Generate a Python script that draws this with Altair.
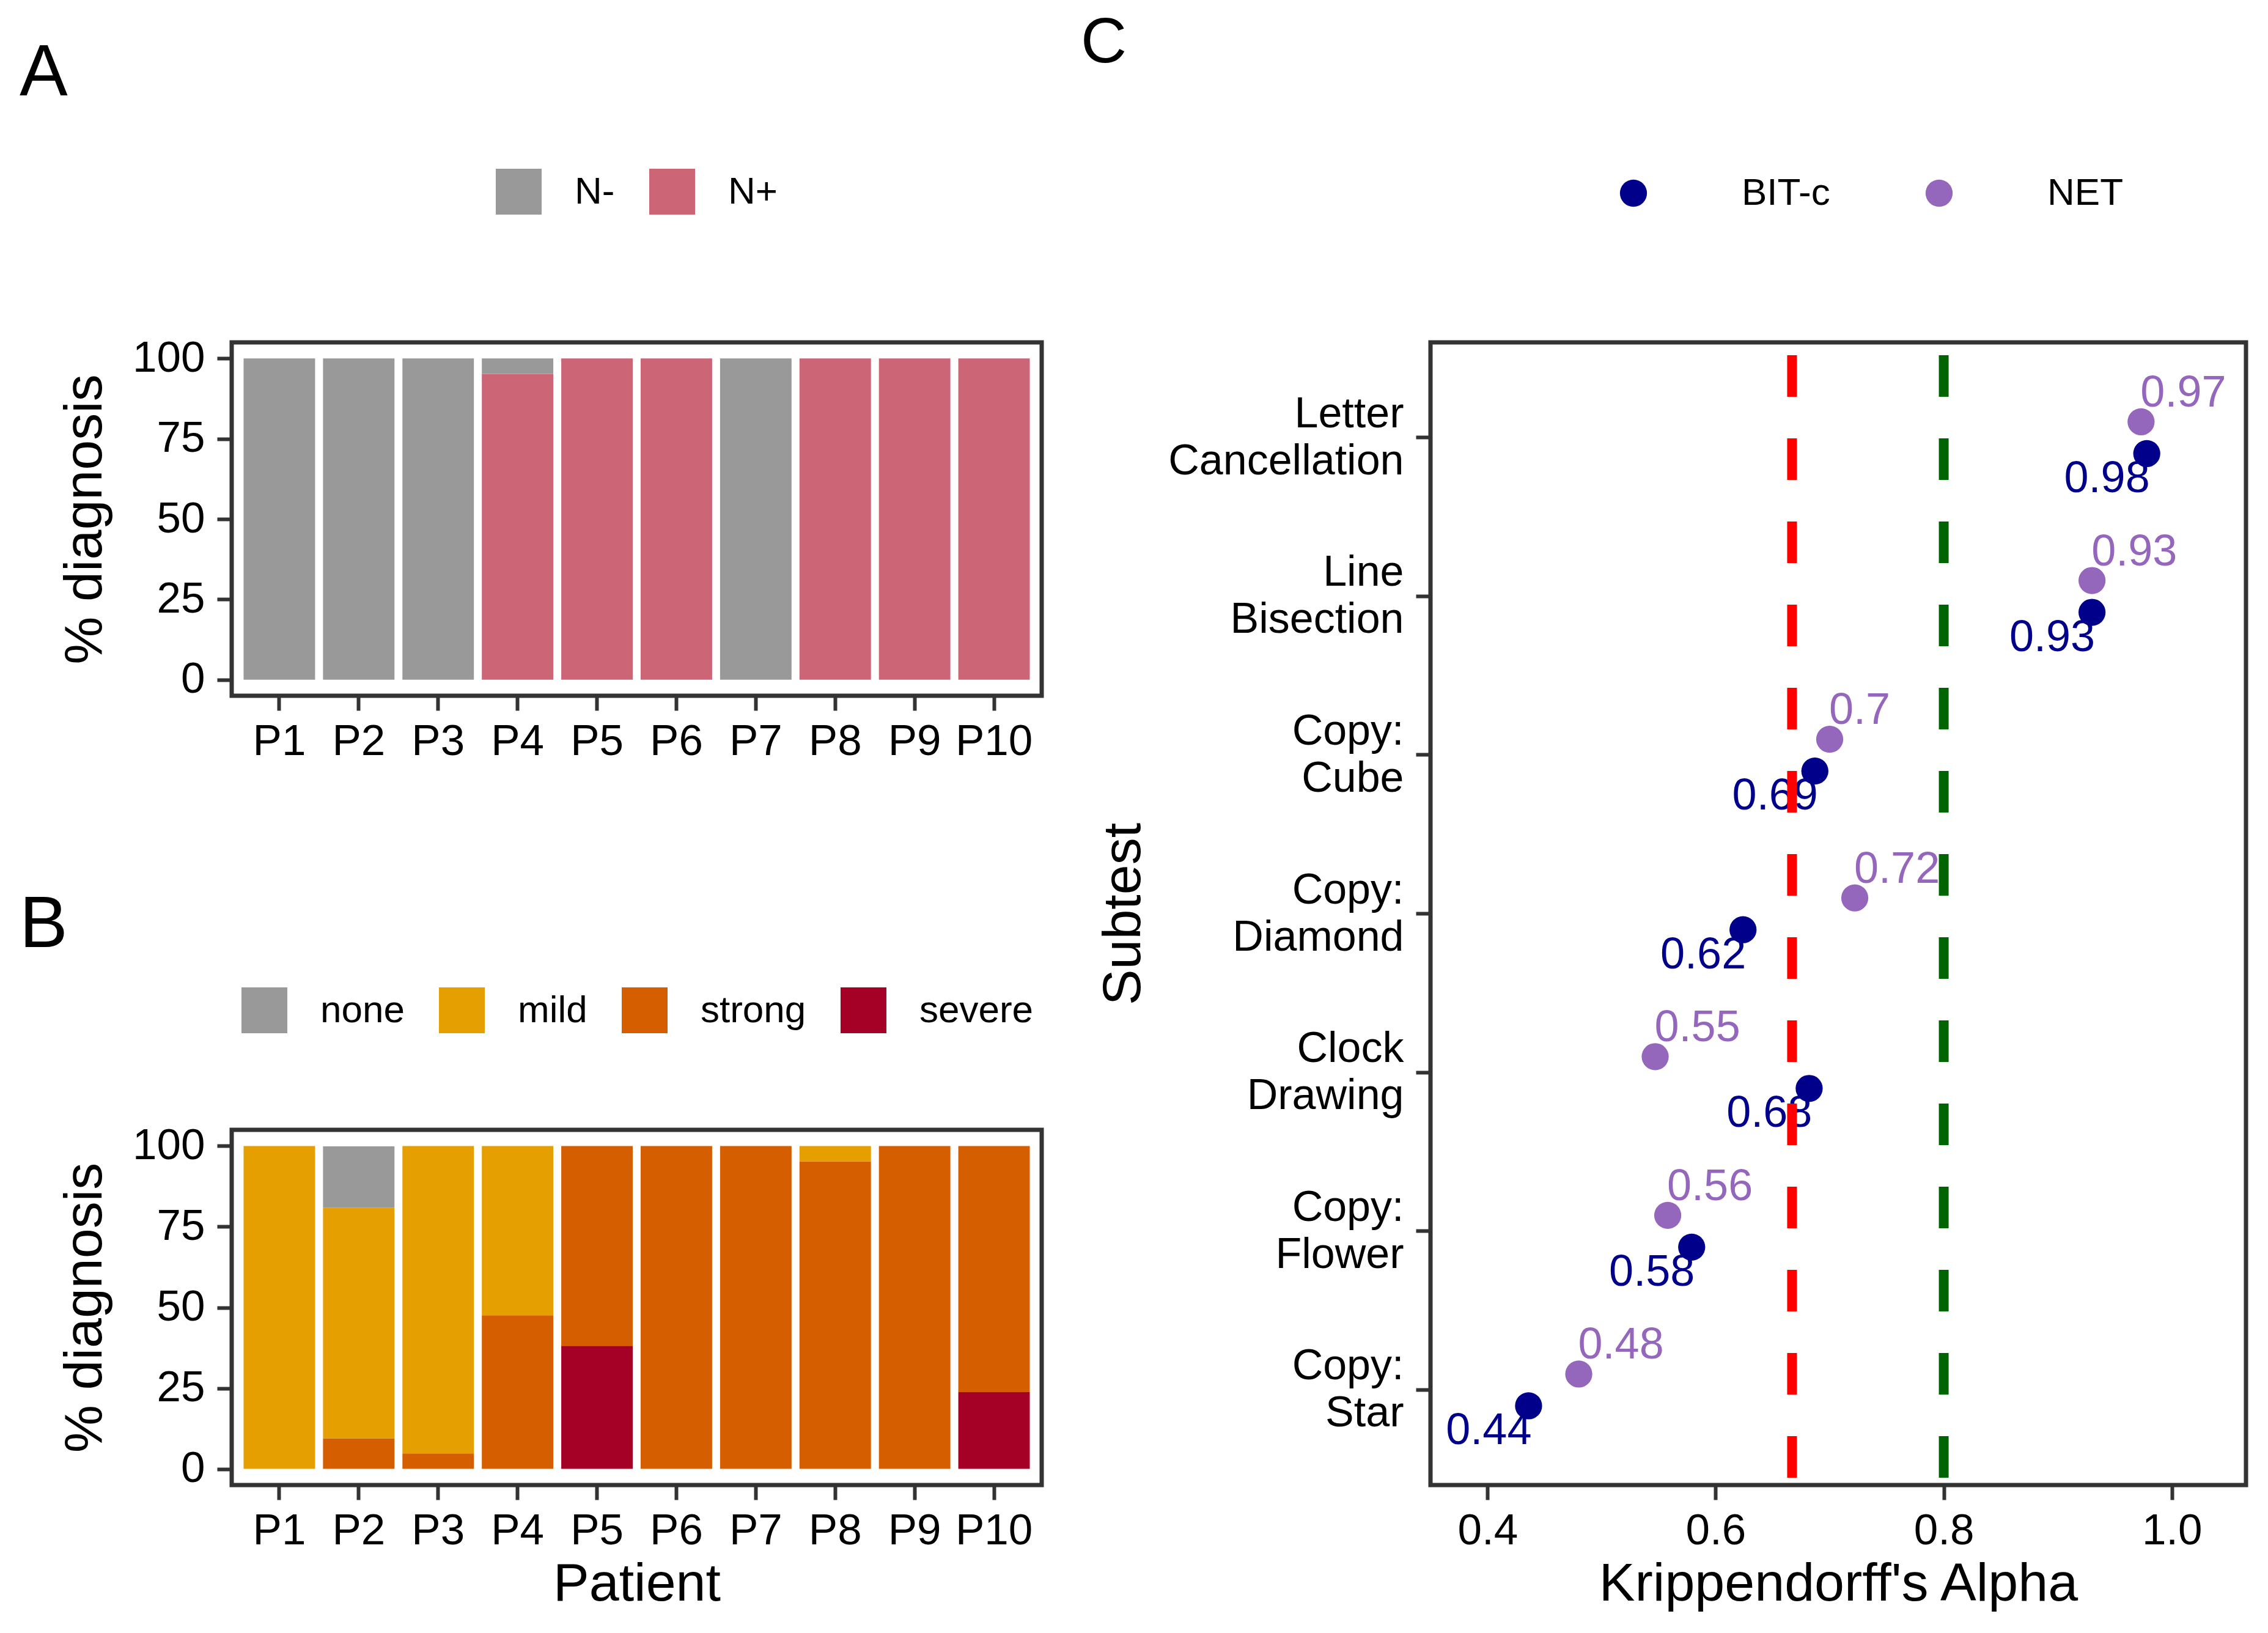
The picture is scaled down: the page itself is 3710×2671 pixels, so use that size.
import altair as alt
import pandas as pd

FONT = "Liberation Sans"

# ---------------- data ----------------
patients = ["P1", "P2", "P3", "P4", "P5", "P6", "P7", "P8", "P9", "P10"]

# Panel A: % diagnosis N- / N+
diag_levels = ["N-", "N+"]
diag_colors = ["#999999", "#CC6677"]
diag_neg = [100, 100, 100, 4.8, 0, 0, 100, 0, 0, 0]
diag_pos = [0, 0, 0, 95.2, 100, 100, 0, 100, 100, 100]

# Panel B: % severity
sev_levels = ["none", "mild", "strong", "severe"]
sev_colors = ["#999999", "#E69F00", "#D55E00", "#A50026"]
sev_none = [0, 19.0, 0, 0, 0, 0, 0, 0, 0, 0]
sev_mild = [100, 71.4, 95.2, 52.4, 0, 0, 0, 4.8, 0, 0]
sev_strong = [0, 9.5, 4.8, 47.6, 61.9, 100, 100, 95.2, 100, 76.2]
sev_severe = [0, 0, 0, 0, 38.1, 0, 0, 0, 0, 23.8]

# Panel C: Krippendorff's alpha per subtest
subtests = ["Letter Cancellation", "Line Bisection", "Copy: Cube", "Copy: Diamond",
            "Clock Drawing", "Copy: Flower", "Copy: Star"]
bitc_alpha = [0.978, 0.930, 0.687, 0.624, 0.682, 0.579, 0.436]
net_alpha = [0.973, 0.930, 0.700, 0.722, 0.547, 0.558, 0.480]
raters = ["BIT-c", "NET"]
rater_colors = ["#00008B", "#9467BD"]

thresholds = [0.667, 0.8]
threshold_colors = ["#FF0000", "#006400"]

# ---------------- tables ----------------
rows_a = []
for i, p in enumerate(patients):
    for rank, (lvl, vals) in enumerate([("N+", diag_pos), ("N-", diag_neg)]):
        if vals[i] > 0:
            rows_a.append({"patient": p, "diag": lvl, "pct": vals[i], "rank": rank})
df_a = pd.DataFrame(rows_a)

rows_b = []
for i, p in enumerate(patients):
    for rank, (lvl, vals) in enumerate([("severe", sev_severe), ("strong", sev_strong),
                                        ("mild", sev_mild), ("none", sev_none)]):
        if vals[i] > 0:
            rows_b.append({"patient": p, "sev": lvl, "pct": vals[i], "rank": rank})
df_b = pd.DataFrame(rows_b)

rows_c = []
for s, b, n in zip(subtests, bitc_alpha, net_alpha):
    rows_c.append({"subtest": s, "rater": "BIT-c", "alpha": b})
    rows_c.append({"subtest": s, "rater": "NET", "alpha": n})
df_c = pd.DataFrame(rows_c)

df_thr = pd.DataFrame({"thr": thresholds, "col": threshold_colors})

# ---------------- shared pieces ----------------
y_pct_scale = alt.Scale(domain=[-5, 105], nice=False)


def letter(txt, dx, offset, size):
    return alt.TitleParams(txt, anchor="start", frame="group", orient="top", dx=dx,
                           offset=offset, fontSize=size, font=FONT, fontWeight="normal",
                           baseline="alphabetic", color="black")


def sq_legend(x, y, ncol):
    return alt.Legend(orient="none", legendX=x, legendY=y, direction="horizontal",
                      columns=ncol, title=None, symbolType="square", symbolSize=5625,
                      symbolStrokeWidth=0, labelFontSize=62, labelFont=FONT,
                      labelColor="black", labelOffset=54, columnPadding=56, padding=0,
                      labelLimit=2000)


# ---------------- panel A ----------------
chart_a = alt.Chart(df_a).mark_bar().encode(
    x=alt.X("patient:N", sort=patients,
            scale=alt.Scale(paddingInner=0.1, paddingOuter=0.15),
            axis=alt.Axis(title=None, labelAngle=0)),
    y=alt.Y("pct:Q", stack="zero", scale=y_pct_scale,
            axis=alt.Axis(values=[0, 25, 50, 75, 100], title="% diagnosis",
                          titlePadding=33)),
    color=alt.Color("diag:N", scale=alt.Scale(domain=diag_levels, range=diag_colors),
                    legend=sq_legend(432, -284, 2)),
    order=alt.Order("rank:Q"),
).properties(width=1325, height=578, title=letter("A", -347, 2, 118))

# ---------------- panel B ----------------
chart_b = alt.Chart(df_b).mark_bar().encode(
    x=alt.X("patient:N", sort=patients,
            scale=alt.Scale(paddingInner=0.1, paddingOuter=0.15),
            axis=alt.Axis(title="Patient", labelAngle=0)),
    y=alt.Y("pct:Q", stack="zero", scale=y_pct_scale,
            axis=alt.Axis(values=[0, 25, 50, 75, 100], title="% diagnosis",
                          titlePadding=33)),
    color=alt.Color("sev:N", scale=alt.Scale(domain=sev_levels, range=sev_colors),
                    legend=sq_legend(16, -233, 4)),
    order=alt.Order("rank:Q"),
).properties(width=1325, height=581, title=letter("B", -347, -52, 118))

# ---------------- panel C ----------------
y_sub = alt.Y("subtest:N", sort=subtests,
              scale=alt.Scale(paddingInner=0, paddingOuter=0.1),
              axis=alt.Axis(title="Subtest", labelExpr="split(datum.label, ' ')",
                            labelLineHeight=77, labelFontSize=70, labelLimit=2000,
                            labelOffset=-38, titlePadding=258))
# dodge of the two raters inside each subtest band
y_off = alt.YOffset("rater:N", scale=alt.Scale(domain=["NET", "BIT-c"], range=[78, 182]))
x_alpha = alt.X("alpha:Q", scale=alt.Scale(domain=[0.35, 1.065], nice=False, zero=False),
                axis=alt.Axis(values=[0.4, 0.6, 0.8, 1.0], format=".1f",
                              title="Krippendorff's Alpha"))

base_c = alt.Chart(df_c).encode(x=x_alpha, y=y_sub, yOffset=y_off)

points_c = base_c.mark_circle(size=1960, opacity=1).encode(
    color=alt.Color("rater:N", scale=alt.Scale(domain=raters, range=rater_colors),
                    legend=alt.Legend(orient="none", legendX=301, legendY=-275,
                                      direction="horizontal", columns=2, title=None,
                                      symbolType="circle", symbolSize=1960,
                                      symbolStrokeWidth=0, labelFontSize=62,
                                      labelFont=FONT, labelColor="black", labelLimit=2000,
                                      labelOffset=146, columnPadding=147, padding=0))
)

text_bitc = base_c.transform_filter(alt.datum.rater == "BIT-c").mark_text(
    align="right", baseline="alphabetic", dx=5, dy=63, fontSize=72, font=FONT,
    color=rater_colors[0]
).encode(text=alt.Text("alpha:Q", format=".2~f"))

text_net = base_c.transform_filter(alt.datum.rater == "NET").mark_text(
    align="left", baseline="alphabetic", dx=-1, dy=-25, fontSize=72, font=FONT,
    color=rater_colors[1]
).encode(text=alt.Text("alpha:Q", format=".2~f"))

rules_c = alt.Chart(df_thr).mark_rule(strokeWidth=16, strokeDash=[68, 68],
                                      strokeDashOffset=115).encode(
    x=alt.X("thr:Q"),
    stroke=alt.Stroke("col:N", scale=None),
)

chart_c = alt.layer(points_c, text_bitc, text_net, rules_c).properties(
    width=1334, height=1869, title=letter("C", -572, 79, 104))

# ---------------- assemble ----------------
left = alt.vconcat(chart_a, chart_b, spacing=710, bounds="flush").resolve_scale(
    color="independent")
chart = alt.hconcat(left, chart_c, spacing=1961, bounds="flush").resolve_scale(
    color="independent"
).properties(
    padding={"left": 20, "top": 7, "right": 5, "bottom": 20}
).configure_view(
    stroke="#333333", strokeWidth=7
).configure_axis(
    domain=False, grid=False, tickColor="#333333", tickWidth=6, tickSize=24,
    labelFont=FONT, labelFontSize=71, labelColor="black", labelPadding=20,
    titleFont=FONT, titleFontSize=88, titleFontWeight="normal", titleColor="black",
    titlePadding=26,
).configure_axisX(labelPadding=16, titlePadding=8)

chart.save("out.html", embed_options={"renderer": "svg", "actions": False})
